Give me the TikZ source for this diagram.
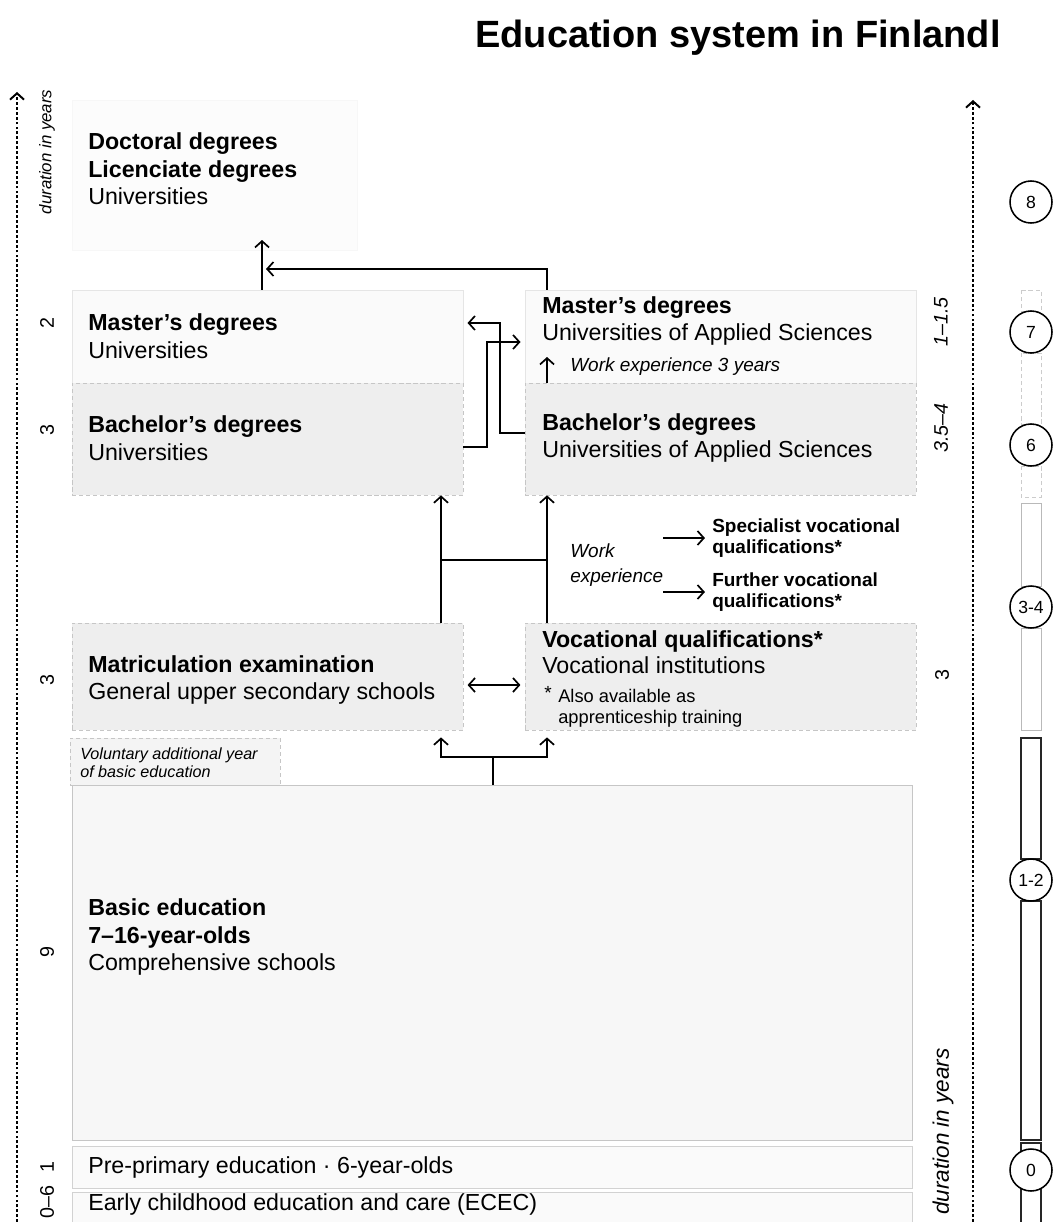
\documentclass[tikz,border=0pt]{standalone}
\usepackage{fontspec}
\setmainfont{Liberation Sans}
\usetikzlibrary{positioning, fit, calc, arrows.meta}

\newcommand{\titlefont}{\fontsize{27}{32}\selectfont\bfseries}
\newcommand{\boxfont}{\fontsize{16.5}{19.5}\selectfont}
\newcommand{\notefont}{\fontsize{13.5}{15.5}\selectfont}
\newcommand{\volfont}{\fontsize{11.5}{12.5}\selectfont\itshape}
\newcommand{\numfont}{\fontsize{14}{16}\selectfont}
\newcommand{\circfont}{\fontsize{12.5}{14}\selectfont}

\begin{document}
\begin{tikzpicture}[x=0.025cm, y=-0.025cm,
    >={Straight Barb[length=4.5pt, width=10pt]},
    link/.style={line width=1.2pt},
    axis/.style={line width=1.4pt, dash pattern=on 2pt off 1.5pt, ->},
    faintbox/.style={fill=gray!2, draw=gray!6, inner sep=0pt},
    lightbox/.style={fill=gray!4, draw=gray!20, inner sep=0pt},
    darkbox/.style={fill=gray!13, draw=gray!45, densely dashed, line width=0.5pt, inner sep=0pt},
    basicbox/.style={fill=gray!6, draw=gray!45, line width=0.6pt, inner sep=0pt},
    rowbox/.style={fill=gray!4, draw=gray!35, line width=0.5pt, inner sep=0pt},
    boxtext/.style={font=\boxfont, align=left, inner sep=0pt, anchor=west},
    notetext/.style={font=\notefont, align=left, inner sep=0pt, anchor=west},
    durnum/.style={font=\numfont, rotate=90, inner sep=0pt},
    circ/.style={circle, draw, line width=1.1pt, fill=white, minimum size=1.05cm, inner sep=0pt, font=\circfont},
    faintbar/.style={draw=gray!40, densely dashed, line width=0.5pt},
    lightbar/.style={draw=gray!55, line width=0.7pt},
    darkbar/.style={draw=black!85, line width=1pt}
]
% page
\fill[white] (0,0) rectangle (1054,1222);
\useasboundingbox (0,0) rectangle (1054,1222);

\node[font=\titlefont] (title) at (738,38) {Education system in Finlandl};

% boxes
\node[faintbox, fit={(72,100) (357,250)}] (docbox) {};
\node[lightbox, fit={(72,290) (463,383)}] (muni) {};
\node[darkbox, fit={(72,383) (463,495)}] (buni) {};
\node[lightbox, fit={(525,290) (916,383)}] (muas) {};
\node[darkbox, fit={(525,383) (916,495)}] (buas) {};
\node[darkbox, fit={(72,623) (463,730)}] (matric) {};
\node[darkbox, fit={(525,623) (916,730)}] (voc) {};
\node[basicbox, fit={(72,785) (912,1140)}] (basic) {};
\node[darkbox, fill=gray!9, fit={(70,738) (280,785)}] (volbox) {};
\node[rowbox, fit={(72,1146) (912,1188)}] (prebox) {};
\node[rowbox, fit={(72,1192) (912,1232)}] (ececbox) {};

% texts
\node[boxtext] (doctxt) at (88,169) {\textbf{Doctoral degrees}\\\textbf{Licenciate degrees}\\Universities};
\node[boxtext] (munitxt) at (88,336) {\textbf{Master's degrees}\\Universities};
\node[boxtext] (bunitxt) at (88,438) {\textbf{Bachelor's degrees}\\Universities};
\node[boxtext] (muastxt) at (542,321) {\textbf{Master's degrees}\\Universities of Applied Sciences};
\node[boxtext] (buastxt) at (542,438) {\textbf{Bachelor's degrees}\\Universities of Applied Sciences};
\node[boxtext] (matrictxt) at (88,680) {\textbf{Matriculation examination}\\General upper secondary schools};
\node[boxtext, font=\fontsize{16.5}{18.5}\selectfont] (voctxt) at (542,652) {\textbf{Vocational qualifications*}\\Vocational institutions};
\node[notetext] (vocstar) at (544,693) {*};
\node[notetext, font=\fontsize{13}{15}\selectfont] (vocnote) at (558,708) {Also available as\\apprenticeship training};
\node[font=\volfont, align=left, inner sep=0pt, anchor=west] (voltxt) at (80,763) {Voluntary additional year\\of basic education};
\node[boxtext] (basictxt) at (88,937) {\textbf{Basic education}\\\textbf{7–16-year-olds}\\Comprehensive schools};
\node[boxtext] (pretxt) at (88,1167) {Pre-primary education · 6-year-olds};
\node[boxtext] (ecectxt) at (88,1204) {Early childhood education and care (ECEC)};

\node[notetext, font=\notefont\itshape] (wexp) at (570,367) {Work experience 3 years};
\node[notetext, font=\fontsize{13.5}{17.5}\selectfont\itshape] (workx) at (570,565) {Work\\experience};
\node[notetext, font=\notefont\bfseries] (spec) at (712,538) {Specialist vocational\\qualifications*};
\node[notetext, font=\notefont\bfseries] (further) at (712,592) {Further vocational\\qualifications*};

% connectors
\coordinate (lx) at (441,0);
\coordinate (rx) at (547,0);
\coordinate (hbar) at (0,560);
\coordinate (swap) at (0,685);
\coordinate (fork) at (493,757);
\coordinate (dup) at (262,240);
\coordinate (djoin) at (266,269);
\coordinate (wtip) at (547,357);
\coordinate (xa) at (487,342);
\coordinate (ya) at (0,447);
\coordinate (xb) at (500,323);
\coordinate (yb) at (0,433);

\draw[link,->] (muni.north -| dup) -- (dup);
\draw[link,->] (muas.north -| rx) |- (djoin);
\draw[link,->,shorten >=3pt] (ya -| buni.east) -| (xa) -- (xa -| muas.west);
\draw[link,->,shorten >=3pt] (yb -| buas.west) -| (xb) -- (xb -| muni.east);
\draw[link,->] (buas.north -| wtip) -- (wtip);
\draw[link,->] (matric.north -| lx) -- (buni.south -| lx);
\draw[link,->] (voc.north -| rx) -- (buas.south -| rx);
\draw[link] (hbar -| lx) -- (hbar -| rx);
\draw[link,->,shorten >=5pt] (workx.east |- spec.west) -- (spec.west);
\draw[link,->,shorten >=5pt] (workx.east |- further.west) -- (further.west);
\draw[link,<->,shorten >=3pt,shorten <=3pt] (swap -| matric.east) -- (swap -| voc.west);
\draw[link,<->] ([yshift=-5pt]matric.south -| lx) |- (fork) -| ([yshift=-5pt]voc.south -| rx);
\draw[link] (basic.north -| fork) -- (fork);

% left axis
\coordinate (laxbot) at (17,1222);
\coordinate (laxtop) at (17,92);
\draw[axis] (laxbot) -- (laxtop);
\node[font=\fontsize{12}{14}\selectfont\itshape, rotate=90, inner sep=0pt] (ldur) at (47,152) {duration in years};
\node[durnum] (n2) at (47,323) {2};
\node[durnum] (n3a) at (47,430) {3};
\node[durnum] (n3b) at (47,680) {3};
\node[durnum] (n9) at (47,952) {9};
\node[durnum] (n1) at (47,1167) {1};
\node[durnum] (n06) at (47,1202) {0–6};

% right axis
\coordinate (raxbot) at (973,1222);
\coordinate (raxtop) at (973,100);
\draw[axis] (raxbot) -- (raxtop);
\node[font=\fontsize{16}{18}\selectfont\itshape, rotate=90, inner sep=0pt, anchor=east] (rdur) at (943,1048) {duration in years};
\node[durnum, font=\numfont\itshape] (r115) at (941,322) {1–1.5};
\node[durnum, font=\numfont\itshape] (r354) at (941,428) {3.5–4};
\node[durnum] (r3) at (942,675) {3};

% levels
\draw[faintbar] (1021,290) rectangle (1041,311);
\draw[faintbar] (1021,353) rectangle (1041,424);
\draw[faintbar] (1021,466) rectangle (1041,497);
\draw[lightbar] (1021,503) rectangle (1041,586);
\draw[lightbar] (1021,628) rectangle (1041,730);
\draw[darkbar] (1021,738) rectangle (1041,859);
\draw[darkbar] (1021,901) rectangle (1041,1140);
\draw[darkbar] (1021,1143) rectangle (1041,1160);
\draw[darkbar] (1021,1180) rectangle (1041,1235);
\node[circ] (c8) at (1031,202) {8};
\node[circ] (c7) at (1031,332) {7};
\node[circ] (c6) at (1031,445) {6};
\node[circ] (c34) at (1031,607) {3-4};
\node[circ] (c12) at (1031,880) {1-2};
\node[circ] (c0) at (1031,1170) {0};
\end{tikzpicture}
\end{document}
